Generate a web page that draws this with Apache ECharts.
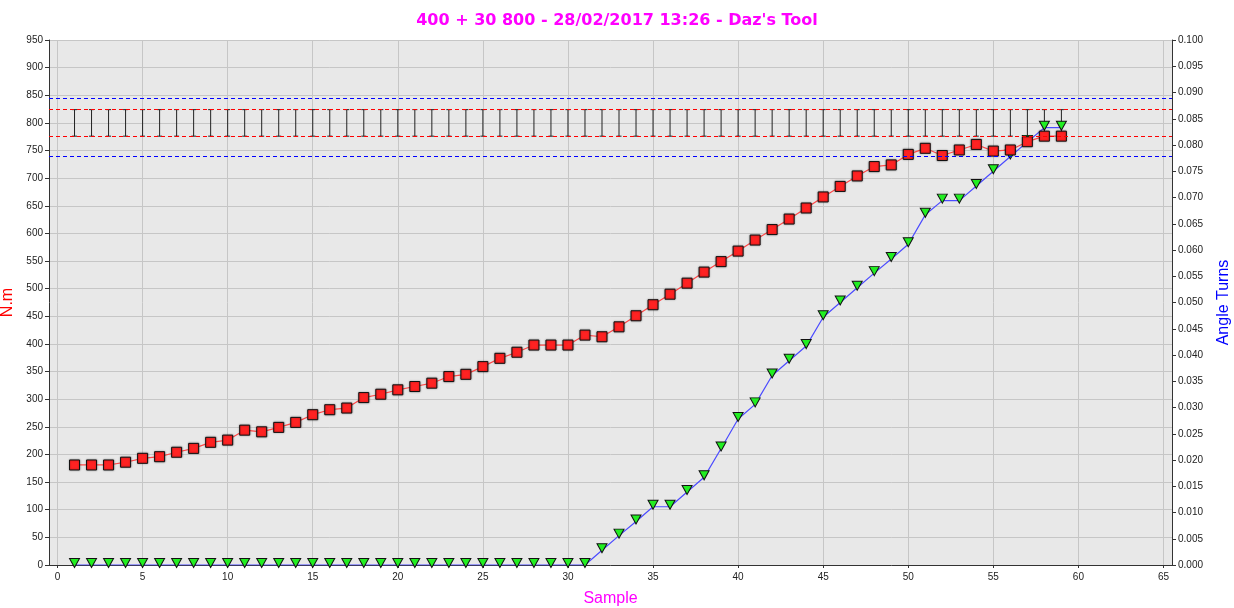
<!DOCTYPE html>
<html>
<head>
<meta charset="utf-8">
<title>Daz's Tool</title>
<script src="https://cdn.jsdelivr.net/npm/echarts@6/dist/echarts.min.js"></script>
<style>
  html, body { margin: 0; padding: 0; background: #fff; }
  #chart { width: 1234px; height: 608px; }
</style>
</head>
<body>
<div id="chart"></div>
<script>
// sample numbers
const samples = [1, 2, 3, 4, 5, 6, 7, 8, 9, 10, 11, 12, 13, 14, 15, 16, 17, 18, 19, 20,
  21, 22, 23, 24, 25, 26, 27, 28, 29, 30, 31, 32, 33, 34, 35, 36, 37, 38, 39, 40,
  41, 42, 43, 44, 45, 46, 47, 48, 49, 50, 51, 52, 53, 54, 55, 56, 57, 58, 59]

// torque (N.m), left axis
const torque = [181, 181, 181, 186, 193, 196, 204, 211, 222, 226, 244, 241, 249, 258, 272, 281, 284, 303, 309, 317,
  323, 329, 341, 345, 359, 374, 385, 398, 398, 398, 416, 413, 431, 451, 471, 490, 510, 530, 549, 568,
  588, 607, 626, 646, 666, 685, 704, 721, 724, 743, 754, 741, 751, 761, 749, 751, 766, 776, 776]

// angle (turns), right axis
const angle = [0, 0, 0, 0, 0, 0, 0, 0, 0, 0, 0, 0, 0, 0, 0, 0, 0, 0, 0, 0,
  0, 0, 0, 0, 0, 0, 0, 0, 0, 0, 0, 0.0028, 0.0056, 0.0083, 0.0111, 0.0111, 0.0139, 0.0167, 0.0222, 0.0278,
  0.0306, 0.0361, 0.0389, 0.0417, 0.0472, 0.0500, 0.0528, 0.0556, 0.0583, 0.0611, 0.0667, 0.0694, 0.0694, 0.0722, 0.0750, 0.0778, 0.0806, 0.0833, 0.0833]

// limits
const torqueLimits = [776, 824]
const angleLimits = [0.0778, 0.0889]

// x axis tick labels
const xTicks = [0, 5, 10, 15, 20, 25, 30, 35, 40, 45, 50, 55, 60, 65]

const chart = echarts.init(document.getElementById('chart'))

const torqueData = samples.map((s, i) => [s, torque[i]])
const angleData = samples.map((s, i) => [s, angle[i]])
const windowData = samples.map(s => [s, torqueLimits[0], torqueLimits[1]])

const tickFont = { fontFamily: 'Liberation Sans', fontSize: 10, color: '#222' }

// the second limit line of a pair kept picking up the bar colour when both had
// the same stroke string, so each line gets its own spelling of the colour
const redSpellings = ['#FF0000', 'rgb(255,0,0)']
const blueSpellings = ['#0000FF', 'rgb(0,0,255)']

const option = {
  animation: false,
  backgroundColor: '#fff',
  title: {
    text: "400 + 30 800 - 28/02/2017 13:26 - Daz's Tool",
    left: 'center',
    top: 8,
    textStyle: { color: '#FF00FF', fontFamily: 'DejaVu Sans', fontWeight: 'bold', fontSize: 16 }
  },
  grid: {
    left: 49,
    right: 62,
    top: 40,
    bottom: 43,
    outerBoundsMode: 'none',
    containLabel: false,
    show: true,
    backgroundColor: '#E8E8E8',
    borderWidth: 0
  },
  xAxis: {
    type: 'value',
    min: -0.5,
    max: 65.5,
    name: 'Sample',
    nameLocation: 'middle',
    nameGap: 26,
    nameTextStyle: { color: '#FF00FF', fontFamily: 'Liberation Sans', fontSize: 16 },
    axisLine: { onZero: false, lineStyle: { color: '#333', width: 1 } },
    axisTick: { show: true, length: 3, customValues: xTicks, lineStyle: { color: '#333' } },
    axisLabel: Object.assign({ margin: 7, customValues: xTicks }, tickFont),
    splitLine: { show: true, lineStyle: { color: '#C6C6C6', width: 1 } }
  },
  yAxis: [
    {
      type: 'value',
      min: 0,
      max: 950,
      interval: 50,
      name: 'N.m',
      nameLocation: 'middle',
      nameRotate: 90,
      nameGap: 25,
      nameTextStyle: { color: '#FF0000', fontFamily: 'Liberation Sans', fontSize: 16 },
      axisLine: { show: true, onZero: false, lineStyle: { color: '#333', width: 1 } },
      axisTick: { show: true, length: 4, lineStyle: { color: '#333' } },
      axisLabel: Object.assign({ margin: 6 }, tickFont),
      splitLine: { show: true, lineStyle: { color: '#C6C6C6', width: 1 } }
    },
    {
      type: 'value',
      min: 0,
      max: 0.1,
      interval: 0.005,
      position: 'right',
      name: 'Angle Turns',
      nameLocation: 'middle',
      nameRotate: 90,
      nameGap: 44,
      nameTextStyle: { color: '#0000FF', fontFamily: 'Liberation Sans', fontSize: 16 },
      axisLine: { show: true, onZero: false, lineStyle: { color: '#333', width: 1 } },
      axisTick: { show: true, length: 4, lineStyle: { color: '#333' } },
      axisLabel: Object.assign({ margin: 6, formatter: v => v.toFixed(3) }, tickFont),
      splitLine: { show: false }
    }
  ],
  series: [
    {
      // target window bars
      name: 'Window',
      type: 'custom',
      yAxisIndex: 0,
      z: 2,
      progressive: 0,
      data: windowData,
      renderItem: function (params, api) {
        const x = api.value(0)
        const lo = api.coord([x, api.value(1)])
        const hi = api.coord([x, api.value(2)])
        const fill = { fill: '#222' }
        return {
          type: 'group',
          children: [
            { type: 'rect', shape: { x: hi[0] - 0.5, y: hi[1], width: 1, height: lo[1] - hi[1] }, style: fill },
            { type: 'rect', shape: { x: hi[0] - 2.5, y: hi[1] - 0.5, width: 5, height: 1 }, style: fill },
            { type: 'rect', shape: { x: lo[0] - 2.5, y: lo[1] - 0.5, width: 5, height: 1 }, style: fill }
          ]
        }
      }
    },
    {
      name: 'Angle',
      type: 'line',
      yAxisIndex: 1,
      z: 3,
      data: angleData,
      symbol: 'triangle',
      symbolSize: [10, 9],
      symbolRotate: 180,
      symbolOffset: [0, -2],
      lineStyle: { color: '#4B4BFF', width: 1.2 },
      itemStyle: { color: '#22EE22', borderColor: '#111', borderWidth: 1 },
      markLine: {
        silent: true,
        symbol: 'none',
        precision: 4,
        label: { show: false },
        lineStyle: { type: [4, 3], width: 1 },
        data: angleLimits.map((v, i) => ({ yAxis: v, lineStyle: { color: blueSpellings[i] } }))
      }
    },
    {
      name: 'Torque',
      type: 'line',
      yAxisIndex: 0,
      z: 4,
      data: torqueData,
      symbol: 'rect',
      symbolSize: 10,
      lineStyle: { color: '#FF4848', width: 1.2 },
      itemStyle: { color: '#FF2222', borderColor: '#111', borderWidth: 1, shadowColor: 'rgba(0,0,0,0.35)', shadowBlur: 2 },
      markLine: {
        silent: true,
        symbol: 'none',
        precision: 1,
        label: { show: false },
        lineStyle: { type: [4, 3], width: 1 },
        data: torqueLimits.map((v, i) => ({ yAxis: v, lineStyle: { color: redSpellings[i] } }))
      }
    }
  ]
}

chart.setOption(option)
</script>
</body>
</html>
